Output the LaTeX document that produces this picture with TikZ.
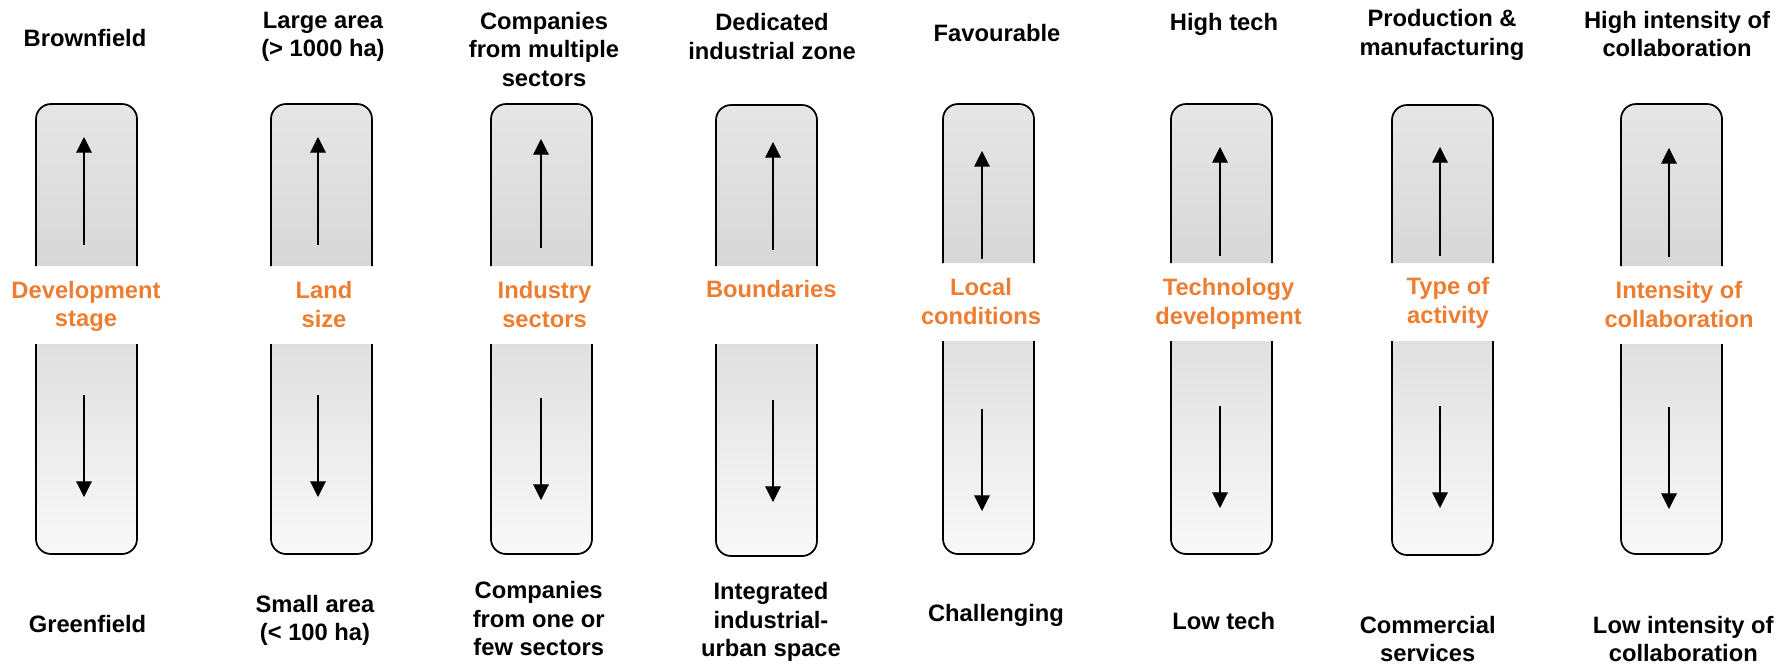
\documentclass[tikz,border=0pt]{standalone}
\usepackage{fontspec}
\setmainfont{Liberation Sans}
\usetikzlibrary{arrows.meta}
\definecolor{orng}{HTML}{ED7D31}
\definecolor{uptop}{HTML}{E6E6E6}
\definecolor{upbot}{HTML}{D7D7D7}
\definecolor{lotop}{HTML}{E0E0E0}
\definecolor{lobot}{HTML}{F9F9F9}
\tikzset{
  lbl/.style={font=\bfseries\fontsize{17.8}{21.3}\selectfont, align=center, anchor=base, inner sep=0pt, text=black},
  dimlbl/.style={lbl, text=orng},
  upperbox/.style={top color=uptop, bottom color=upbot, draw=black, line width=1.3pt, rounded corners=11.25pt},
  lowerbox/.style={top color=lotop, bottom color=lobot, draw=black, line width=1.3pt, rounded corners=11.25pt},
  arr/.style={line width=0.8pt, -{Triangle[length=11.7pt,width=11.7pt]}},
}
\newcommand\pillarshape[6]{%
  \draw[upperbox] (#1,#4) -- (#1,#3) -- (#2,#3) -- (#2,#4);
  \draw[lowerbox] (#1,#5) -- (#1,#6) -- (#2,#6) -- (#2,#5);}
\begin{document}
\begin{tikzpicture}[x=0.75pt,y=-0.75pt]
\useasboundingbox (0,0) rectangle (1779,664);
% boxes
\pillarshape{36}{137}{104}{266}{344}{554}
\pillarshape{271}{372}{104}{266}{344}{554}
\pillarshape{491}{592}{104}{266}{344}{554}
\pillarshape{716}{817}{105}{266}{344}{556}
\pillarshape{943}{1034}{104}{263}{341}{554}
\pillarshape{1171}{1272}{104}{263}{341}{554}
\pillarshape{1392}{1493}{105}{263}{341}{555}
\pillarshape{1621}{1722}{104}{266}{344}{554}
% arrows
\coordinate (u1s) at (84,245);   \coordinate (u1e) at (84,137);
\coordinate (d1s) at (84,395);   \coordinate (d1e) at (84,497);
\coordinate (u2s) at (318,245);  \coordinate (u2e) at (318,137);
\coordinate (d2s) at (318,395);  \coordinate (d2e) at (318,497);
\coordinate (u3s) at (541,248);  \coordinate (u3e) at (541,139);
\coordinate (d3s) at (541,398);  \coordinate (d3e) at (541,500);
\coordinate (u4s) at (773,250);  \coordinate (u4e) at (773,142);
\coordinate (d4s) at (773,400);  \coordinate (d4e) at (773,502);
\coordinate (u5s) at (982,259);  \coordinate (u5e) at (982,151);
\coordinate (d5s) at (982,409);  \coordinate (d5e) at (982,511);
\coordinate (u6s) at (1220,256); \coordinate (u6e) at (1220,147);
\coordinate (d6s) at (1220,406); \coordinate (d6e) at (1220,508);
\coordinate (u7s) at (1440,256); \coordinate (u7e) at (1440,147);
\coordinate (d7s) at (1440,406); \coordinate (d7e) at (1440,508);
\coordinate (u8s) at (1669,257); \coordinate (u8e) at (1669,148);
\coordinate (d8s) at (1669,407); \coordinate (d8e) at (1669,509);
\foreach \i in {1,...,8}{
  \draw[arr] (u\i s) -- (u\i e);
  \draw[arr] (d\i s) -- (d\i e);
}
% top labels (positioned by baseline of last line)
\node[lbl] (t1) at (85,46)     {Brownfield};
\node[lbl] (t2) at (323,56.7)  {Large area\\(> 1000 ha)};
\node[lbl] (t3) at (544,86)    {Companies\\from multiple\\sectors};
\node[lbl] (t4) at (772,59)    {Dedicated\\industrial zone};
\node[lbl] (t5) at (997,41.7)  {Favourable};
\node[lbl] (t6) at (1224,30)   {High tech};
\node[lbl] (t7) at (1442,55)   {Production \&\\manufacturing};
\node[lbl] (t8) at (1677,56.7) {High intensity of\\collaboration};
% middle labels
\node[dimlbl] (m1) at (86,326.7)    {Development\\stage};
\node[dimlbl] (m2) at (324,327)     {Land\\size};
\node[dimlbl] (m3) at (544.5,327)   {Industry\\sectors};
\node[dimlbl] (m4) at (771.3,297.7) {Boundaries};
\node[dimlbl] (m5) at (981,324)     {Local\\conditions};
\node[dimlbl] (m6) at (1228.5,324)  {Technology\\development};
\node[dimlbl] (m7) at (1448,323)    {Type of\\activity};
\node[dimlbl] (m8) at (1679,327)    {Intensity of\\collaboration};
% bottom labels
\node[lbl] (b1) at (87.5,632.7)   {Greenfield};
\node[lbl] (b2) at (315,640.7)    {Small area\\(< 100 ha)};
\node[lbl] (b3) at (538.7,655.7)  {Companies\\from one or\\few sectors};
\node[lbl] (b4) at (771,656.7)    {Integrated\\industrial-\\urban space};
\node[lbl] (b5) at (996,621.7)    {Challenging};
\node[lbl] (b6) at (1223.7,629.3) {Low tech};
\node[lbl] (b7) at (1427.7,661.7) {Commercial\\services};
\node[lbl] (b8) at (1683.3,661.7) {Low intensity of\\collaboration};
\end{tikzpicture}
\end{document}
